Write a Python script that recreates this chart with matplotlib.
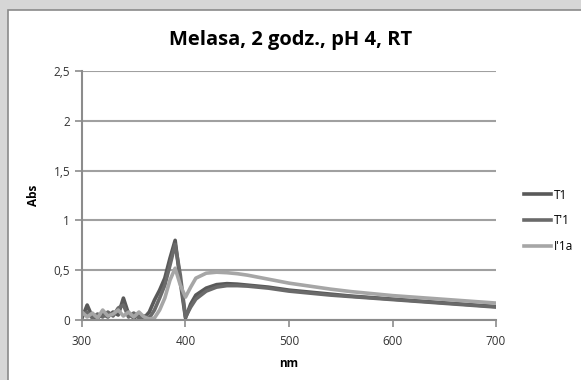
import matplotlib.pyplot as plt
from matplotlib.patches import Rectangle

# Widma absorpcji: melasa, 2 godz., pH 4, temperatura pokojowa
nm = [300, 305, 310, 315, 320, 325, 330, 335, 340, 345, 350, 355, 360, 365,
      370, 375, 380, 385, 390, 395, 400, 405, 410, 420, 430, 440, 450, 460,
      470, 480, 490, 500, 520, 540, 560, 580, 600, 620, 640, 660, 680, 700]

t1 = [0.02, 0.15, 0.03, 0.02, 0.06, 0.03, 0.08, 0.05, 0.22, 0.06, 0.02, 0.05,
      0.02, 0.08, 0.20, 0.30, 0.42, 0.62, 0.80, 0.38, 0.02, 0.16, 0.25, 0.32,
      0.355, 0.365, 0.36, 0.35, 0.34, 0.33, 0.315, 0.30, 0.28, 0.26, 0.24,
      0.225, 0.21, 0.195, 0.18, 0.165, 0.15, 0.135]

t1p = [0.05, 0.08, 0.02, 0.06, 0.03, 0.08, 0.04, 0.12, 0.15, 0.03, 0.07, 0.02,
       0.04, 0.02, 0.10, 0.22, 0.35, 0.55, 0.76, 0.45, 0.03, 0.13, 0.21, 0.29,
       0.33, 0.345, 0.345, 0.34, 0.33, 0.32, 0.305, 0.29, 0.27, 0.25, 0.235,
       0.22, 0.205, 0.19, 0.175, 0.16, 0.145, 0.13]

i1a = [0.08, 0.03, 0.07, 0.02, 0.10, 0.04, 0.06, 0.10, 0.04, 0.08, 0.03, 0.08,
       0.03, 0.01, 0.02, 0.10, 0.22, 0.40, 0.52, 0.35, 0.23, 0.33, 0.42, 0.47,
       0.48, 0.475, 0.465, 0.45, 0.43, 0.41, 0.39, 0.37, 0.34, 0.31, 0.285,
       0.265, 0.245, 0.23, 0.215, 0.20, 0.185, 0.17]

yticks = [0, 0.5, 1, 1.5, 2, 2.5]
ytick_labels = ['0', '0,5', '1', '1,5', '2', '2,5']
xticks = [300, 400, 500, 600, 700]

plt.rcParams['font.family'] = ['Open Sans', 'DejaVu Sans']

fig = plt.figure(figsize=(5.81, 3.80), dpi=100)
fig.patch.set_facecolor('#d6d6d6')

# bialy obszar wykresu z ramka
fig.patches.append(Rectangle((8 / 581, -0.01), 1.0, 1 - 10 / 380 + 0.01,
                             transform=fig.transFigure, facecolor='white',
                             edgecolor='#8a8a8a', linewidth=1.2, zorder=-1))

ax = fig.add_axes([82 / 581, 1 - 320 / 380, (496 - 82) / 581, (320 - 71) / 380])
ax.set_facecolor('white')

ax.plot(nm, t1, color='#595959', linewidth=2.6, label='T1')
ax.plot(nm, t1p, color='#6a6a6a', linewidth=2.6, label="T'1")
ax.plot(nm, i1a, color='#a6a6a6', linewidth=2.6, label="I'1a")

ax.set_xlim(300, 700)
ax.set_ylim(0, 2.5)
ax.set_xticks(xticks)
ax.set_yticks(yticks)
ax.set_yticklabels(ytick_labels)
ax.grid(axis='y', color='#a0a0a0', linewidth=1.5)
ax.set_axisbelow(True)

for side in ['top', 'right']:
    ax.spines[side].set_visible(False)
for side in ['left', 'bottom']:
    ax.spines[side].set_color('#8c8c8c')
    ax.spines[side].set_linewidth(1.5)

ax.tick_params(axis='both', colors='#8c8c8c', labelcolor='#333333',
               labelsize=8.5, length=5, width=1.2)
ax.tick_params(axis='x', pad=6)

ax.set_xlabel('nm', fontsize=8.5, fontweight='bold', labelpad=6)
ax.set_ylabel('Abs', fontsize=8.5, fontweight='bold', labelpad=10)

fig.text(0.5, 1 - 40 / 380, 'Melasa, 2 godz., pH 4, RT', ha='center',
         va='center', fontsize=14.5, fontweight='bold')

fig.legend(loc='center left', bbox_to_anchor=(513 / 581, 1 - 221 / 380),
           frameon=False, fontsize=8.5, handlelength=2.3, handletextpad=0.3,
           labelspacing=1.1)

plt.savefig('out.png', dpi=100, facecolor=fig.get_facecolor())
